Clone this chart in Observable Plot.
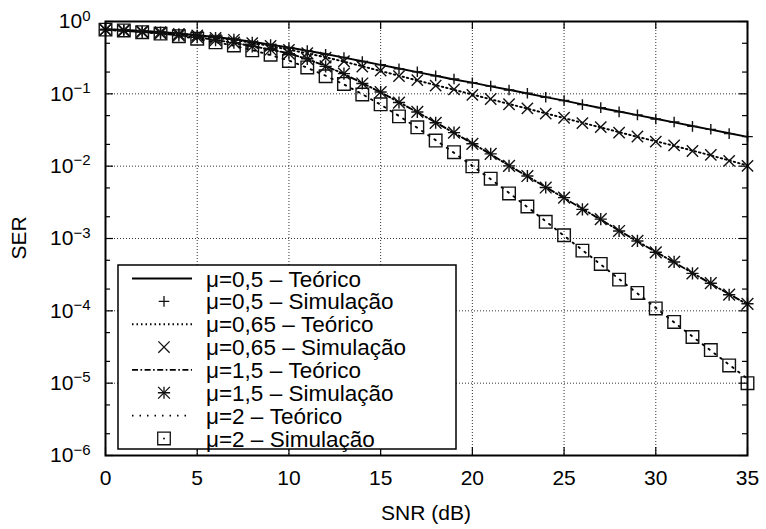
<!DOCTYPE html>
<html><head><meta charset="utf-8">
<script src="https://cdn.jsdelivr.net/npm/d3@7"></script>
<script src="https://cdn.jsdelivr.net/npm/@observablehq/plot@0.6"></script>
<style>html,body{margin:0;padding:0;background:#fff;overflow:hidden}</style>
</head><body><div id="chart"></div>
<script>
const snr = [0,1,2,3,4,5,6,7,8,9,10,11,12,13,14,15,16,17,18,19,20,21,22,23,24,25,26,27,28,29,30,31,32,33,34,35];

const teo05 = [0.785,0.767,0.741,0.716,0.684,0.646,0.610,0.569,0.525,0.479,0.437,0.394,0.355,0.316,0.282,0.251,0.224,0.200,0.178,0.158,0.143,0.127,0.114,0.101,0.0902,0.0804,0.0716,0.0638,0.0569,0.0507,0.0452,0.0403,0.0359,0.0320,0.0285,0.0254];
const sim05 = [0.780,0.768,0.738,0.718,0.681,0.648,0.607,0.571,0.522,0.482,0.434,0.396,0.352,0.318,0.280,0.253,0.222,0.202,0.177,0.160,0.142,0.128,0.113,0.102,0.0895,0.0810,0.0710,0.0645,0.0563,0.0512,0.0448,0.0407,0.0355,0.0323,0.0282,0.0256];

const teo065 = [0.776,0.759,0.733,0.708,0.676,0.638,0.596,0.556,0.507,0.457,0.407,0.363,0.320,0.279,0.240,0.207,0.178,0.153,0.132,0.114,0.0977,0.0841,0.0724,0.0624,0.0537,0.0462,0.0398,0.0343,0.0295,0.0254,0.0221,0.0191,0.0164,0.0141,0.0120,0.0102];
const sim065 = [0.772,0.761,0.730,0.711,0.672,0.641,0.592,0.559,0.503,0.460,0.404,0.366,0.317,0.282,0.238,0.209,0.176,0.155,0.130,0.115,0.0970,0.0848,0.0718,0.0630,0.0532,0.0467,0.0394,0.0347,0.0291,0.0257,0.0218,0.0194,0.0162,0.0143,0.0118,0.0101];

const teo15 = [0.767,0.741,0.716,0.684,0.646,0.603,0.556,0.507,0.457,0.407,0.363,0.302,0.243,0.188,0.141,0.105,0.0767,0.0556,0.0403,0.0288,0.0207,0.0146,0.0102,0.00724,0.00513,0.00363,0.00257,0.00182,0.00129,0.000912,0.000653,0.000468,0.000335,0.000237,0.000170,0.000123];
const sim15 = [0.764,0.744,0.712,0.687,0.642,0.606,0.552,0.510,0.453,0.410,0.360,0.305,0.240,0.190,0.139,0.106,0.0758,0.0562,0.0398,0.0291,0.0204,0.0148,0.0101,0.00731,0.00507,0.00367,0.00253,0.00185,0.00127,0.000925,0.000645,0.000474,0.000330,0.000241,0.000167,0.000125];

const teo2 = [0.776,0.750,0.716,0.676,0.631,0.575,0.519,0.462,0.403,0.343,0.288,0.229,0.178,0.135,0.0989,0.0708,0.0495,0.0339,0.0229,0.0153,0.0101,0.00661,0.00427,0.00272,0.00173,0.00109,0.000692,0.000437,0.000275,0.000174,0.000110,0.0000692,0.0000442,0.0000282,0.0000180,0.0000115];
const sim2 = [0.772,0.753,0.712,0.680,0.627,0.579,0.515,0.466,0.399,0.347,0.285,0.232,0.175,0.137,0.0978,0.0716,0.0488,0.0344,0.0226,0.0156,0.00995,0.00672,0.00420,0.00277,0.00170,0.00111,0.000680,0.000445,0.000270,0.000177,0.000108,0.0000702,0.0000435,0.0000287,0.0000176,0.0000100];

const xTicks = [0,5,10,15,20,25,30,35];
const yTicks = [1e-6,1e-5,1e-4,1e-3,1e-2,1e-1,1];
const yMinorTicks = [2e-6,5e-6,2e-5,5e-5,2e-4,5e-4,2e-3,5e-3,2e-2,5e-2,2e-1,5e-1];
const legendLabels = ["μ=0,5 – Teórico","μ=0,5 – Simulação","μ=0,65 – Teórico","μ=0,65 – Simulação","μ=1,5 – Teórico","μ=1,5 – Simulação","μ=2 – Teórico","μ=2 – Simulação"];
const xLabel = "SNR (dB)";
const yLabel = "SER";

const rows = ys => snr.map((x, i) => ({x, y: ys[i]}));
const FONT = "'Liberation Sans', Arial, Helvetica, sans-serif";
const W = 766, H = 529, ML = 105, MR = 19, MT = 21, MB = 74;
const FW = W - ML - MR, FH = H - MT - MB;

const dashes = [null, "1.5,3", "6,2.5,1.6,2.5", "1.5,6"];
const lineW = 1.9;
const mk = {stroke: "#111", strokeWidth: 1.4, fill: "none"};

const plot = Plot.plot({
  width: W, height: H,
  marginLeft: ML, marginRight: MR, marginTop: MT, marginBottom: MB,
  style: {fontFamily: FONT, fontSize: "21px", color: "black", background: "white"},
  x: {domain: [0, 35]},
  y: {type: "log", domain: [1e-6, 1]},
  marks: [
    Plot.gridX({ticks: xTicks, stroke: "#333", strokeOpacity: 1, strokeDasharray: "1,2", strokeWidth: 1}),
    Plot.gridY({ticks: yTicks, stroke: "#333", strokeOpacity: 1, strokeDasharray: "1,2", strokeWidth: 1}),
    Plot.line(rows(teo05), {x: "x", y: "y", stroke: "black", strokeWidth: lineW}),
    Plot.line(rows(teo065), {x: "x", y: "y", stroke: "black", strokeWidth: lineW, strokeDasharray: dashes[1]}),
    Plot.line(rows(teo15), {x: "x", y: "y", stroke: "black", strokeWidth: lineW, strokeDasharray: dashes[2]}),
    Plot.line(rows(teo2), {x: "x", y: "y", stroke: "black", strokeWidth: lineW, strokeDasharray: dashes[3]}),
    Plot.dot(rows(sim05), {x: "x", y: "y", symbol: "plus", r: 3.5, ...mk}),
    Plot.dot(rows(sim065), {x: "x", y: "y", symbol: "times", r: 5.2, ...mk}),
    Plot.dot(rows(sim15), {x: "x", y: "y", symbol: "plus", r: 4.0, ...mk}),
    Plot.dot(rows(sim15), {x: "x", y: "y", symbol: "times", r: 5.4, ...mk}),
    Plot.dot(rows(sim2), {x: "x", y: "y", symbol: "square2", r: 8, ...mk}),
    Plot.tickY(yTicks, {y: d => d, insetRight: FW - 8, stroke: "black", strokeWidth: 1.2}),
    Plot.tickY(yTicks, {y: d => d, insetLeft: FW - 8, stroke: "black", strokeWidth: 1.2}),
    Plot.tickY(yMinorTicks, {y: d => d, insetRight: FW - 5, stroke: "black", strokeWidth: 1.2}),
    Plot.tickY(yMinorTicks, {y: d => d, insetLeft: FW - 5, stroke: "black", strokeWidth: 1.2}),
    Plot.tickX(xTicks, {x: d => d, insetTop: FH - 8, stroke: "black", strokeWidth: 1.2}),
    Plot.tickX(xTicks, {x: d => d, insetBottom: FH - 8, stroke: "black", strokeWidth: 1.2}),
    Plot.frame({stroke: "black", strokeWidth: 2}),
    Plot.axisX({ticks: xTicks, tickSize: 0, tickPadding: 15, label: null}),
    Plot.axisY({ticks: yTicks, tickSize: 0, tickPadding: 15, label: null,
      tickFormat: d => String(Math.round(Math.log10(d)))})
  ]
});

const svg = d3.select(plot);
svg.selectAll('g[aria-label$="tick label"]').attr("font-size", "21px").style("font-size", "21px");
svg.selectAll('g[aria-label$="tick label"] text').style("font-size", "21px").attr("fill", "black");
// superscript exponents on y tick labels
svg.selectAll('g[aria-label="y-axis tick label"] text').each(function () {
  const e = this.textContent.replace("-", "−");
  const t = d3.select(this);
  t.text("10");
  t.append("tspan").attr("dy", "-0.5em").style("font-size", "15px").text(e);
});

// axis titles
svg.append("text").attr("x", ML + FW / 2).attr("y", 520).attr("text-anchor", "middle")
  .attr("font-family", FONT).style("font-size", "21px").attr("fill", "black").text(xLabel);
svg.append("text").attr("transform", `translate(26,${MT + FH / 2}) rotate(-90)`).attr("text-anchor", "middle")
  .attr("font-family", FONT).style("font-size", "21px").attr("fill", "black").text(yLabel);

// legend
const lg = svg.append("g").attr("text-anchor", "start");
lg.append("rect").attr("x", 118).attr("y", 265).attr("width", 338).attr("height", 184)
  .attr("fill", "white").attr("stroke", "black").attr("stroke-width", 1.5);
const sym = (type, r) => d3.symbol(type, r * r * Math.PI)();
legendLabels.forEach((lab, i) => {
  const cy = 278.5 + 22.85 * i;
  const k = Math.floor(i / 2);
  if (i % 2 === 0) {
    const l = lg.append("line").attr("x1", 132).attr("x2", 192).attr("y1", cy).attr("y2", cy)
      .attr("stroke", "black").attr("stroke-width", lineW);
    if (dashes[k]) l.attr("stroke-dasharray", dashes[k]);
  } else {
    const g = lg.append("g").attr("transform", `translate(164,${cy})`)
      .attr("fill", "none").attr("stroke", "#111").attr("stroke-width", 1.3);
    if (k === 0) g.append("path").attr("d", sym(d3.symbolPlus, 3.5));
    if (k === 1) g.append("path").attr("d", sym(d3.symbolTimes, 5.2));
    if (k === 2) { g.append("path").attr("d", sym(d3.symbolPlus, 4.0)); g.append("path").attr("d", sym(d3.symbolTimes, 5.4)); }
    if (k === 3) { g.append("path").attr("d", sym(d3.symbolSquare2, 8)); g.append("circle").attr("r", 1).attr("fill", "#111").attr("stroke", "none"); }
  }
  lg.append("text").attr("x", 206).attr("y", cy).attr("dy", "0.36em").attr("text-anchor", "start")
    .attr("font-family", FONT).style("font-size", "22.5px").attr("fill", "black").text(lab);
});

document.getElementById("chart").appendChild(plot);
</script>
</body></html>
